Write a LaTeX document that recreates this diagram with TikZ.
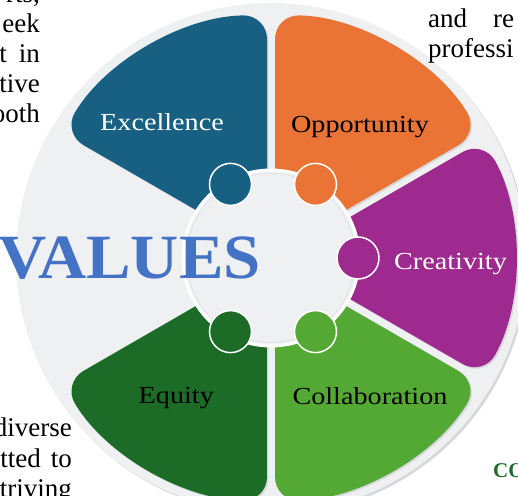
\documentclass[tikz,border=0pt]{standalone}
\usepackage{fontspec}
\setmainfont{Liberation Serif}
\newfontfamily\labfont[FakeStretch=1.15]{Liberation Serif}
\newfontfamily\valfont[FakeStretch=1.06]{Liberation Serif}
\usetikzlibrary{calc}
\definecolor{cexc}{HTML}{176082}
\definecolor{copp}{HTML}{EA7435}
\definecolor{ccre}{HTML}{9F2A8F}
\definecolor{ccol}{HTML}{53A933}
\definecolor{cequ}{HTML}{1C6B27}
\definecolor{valblue}{HTML}{4472C4}
\definecolor{bgray}{HTML}{EFF0F2}
\definecolor{sgray}{HTML}{D6D8DB}
\definecolor{rgray}{HTML}{E1E3E6}
\definecolor{cogreen}{HTML}{1E6B2A}
\newcommand\drawsector[3]{%
  \fill[#1, rounded corners=24pt] ($(#2:50)+(#2+90:4)$) -- ($(#2:243)+(#2+90:4)$)
    arc[start angle=#2+0.94, end angle=#3-0.94, radius=243]
    -- ($(#3:50)+(#3-90:4)$) -- cycle;}
\tikzset{
  dot/.style={circle, minimum size=42pt, inner sep=0pt, draw=white, line width=1.5pt},
  lab/.style={inner sep=0pt, anchor=base, font=\labfont\fontsize{24.5}{28}\selectfont},
  frag/.style={inner sep=0pt, font=\fontsize{27}{30}\selectfont, text=black}
}
\begin{document}
\begin{tikzpicture}[x=1pt,y=1pt]
\useasboundingbox (-271,-237) rectangle (247,258);
\clip (-271,-237) rectangle (247,258);
% background disc
\fill[sgray] (2,-2) circle (255);
\fill[bgray] (0,0) circle (255);
% sector shadows
\begin{scope}[shift={(1.5,-1.5)}]
  \drawsector{sgray}{90}{150}
  \drawsector{sgray}{30}{90}
  \drawsector{sgray}{-30}{30}
  \drawsector{sgray}{-90}{-30}
  \drawsector{sgray}{-150}{-90}
\end{scope}
% sectors
\drawsector{cexc}{90}{150}
\drawsector{copp}{30}{90}
\drawsector{ccre}{-30}{30}
\drawsector{ccol}{-90}{-30}
\drawsector{cequ}{-150}{-90}
% inner disc
\fill[bgray] (0,0) circle (88);
\draw[white, line width=3pt] (0,0) circle (88);
\draw[rgray, line width=0.8pt] (0,0) circle (84.5);
% small circles
\node[dot, fill=cexc] (dexc) at ($(2,0)+(120:85)$) {};
\node[dot, fill=copp] (dopp) at ($(2,0)+(60:85)$) {};
\node[dot, fill=ccre] (dcre) at ($(2,0)+(0:85)$) {};
\node[dot, fill=ccol] (dcol) at ($(2,0)+(-60:85)$) {};
\node[dot, fill=cequ] (dequ) at ($(2,0)+(-120:85)$) {};
% labels
\node[lab, text=white] (lexc) at (-109,127.3) {Excellence};
\node[lab, text=black] (lopp) at (89,125) {Opportunity};
\node[lab, text=white] (lcre) at (179.5,-11.3) {Creativity};
\node[lab, text=black] (lequ) at (-94.7,-145.3) {Equity};
\node[lab, text=black] (lcol) at (99,-146.3) {Collaboration};
% title
\node[anchor=base east, inner sep=0pt, text=valblue, font=\valfont\bfseries\fontsize{63}{70}\selectfont] (vals) at (-10,-20.3) {VALUES};
% surrounding text fragments
\node[frag, anchor=base east] (f1) at (-231,255) {rts,};
\node[frag, anchor=base east] (f2) at (-231,225) {eek};
\node[frag, anchor=base east] (f3) at (-231,195) {t\hspace{12pt}in};
\node[frag, anchor=base east] (f4) at (-231,165) {tive};
\node[frag, anchor=base east] (f5) at (-231,135) {ooth};
\node[frag, anchor=base west] (f6) at (157,230) {and\hspace{26pt}re};
\node[frag, anchor=base west] (f7) at (157,200) {professi};
\node[frag, anchor=base east] (f8) at (-199,-178) {diverse};
\node[frag, anchor=base east] (f9) at (-199,-209) {tted\hspace{10pt}to};
\node[frag, anchor=base east] (f10) at (-199,-239) {triving};
\node[inner sep=0pt, anchor=base west, text=cogreen, font=\bfseries\fontsize{21}{24}\selectfont] (f11) at (222,-219) {CO};
\end{tikzpicture}
\end{document}
